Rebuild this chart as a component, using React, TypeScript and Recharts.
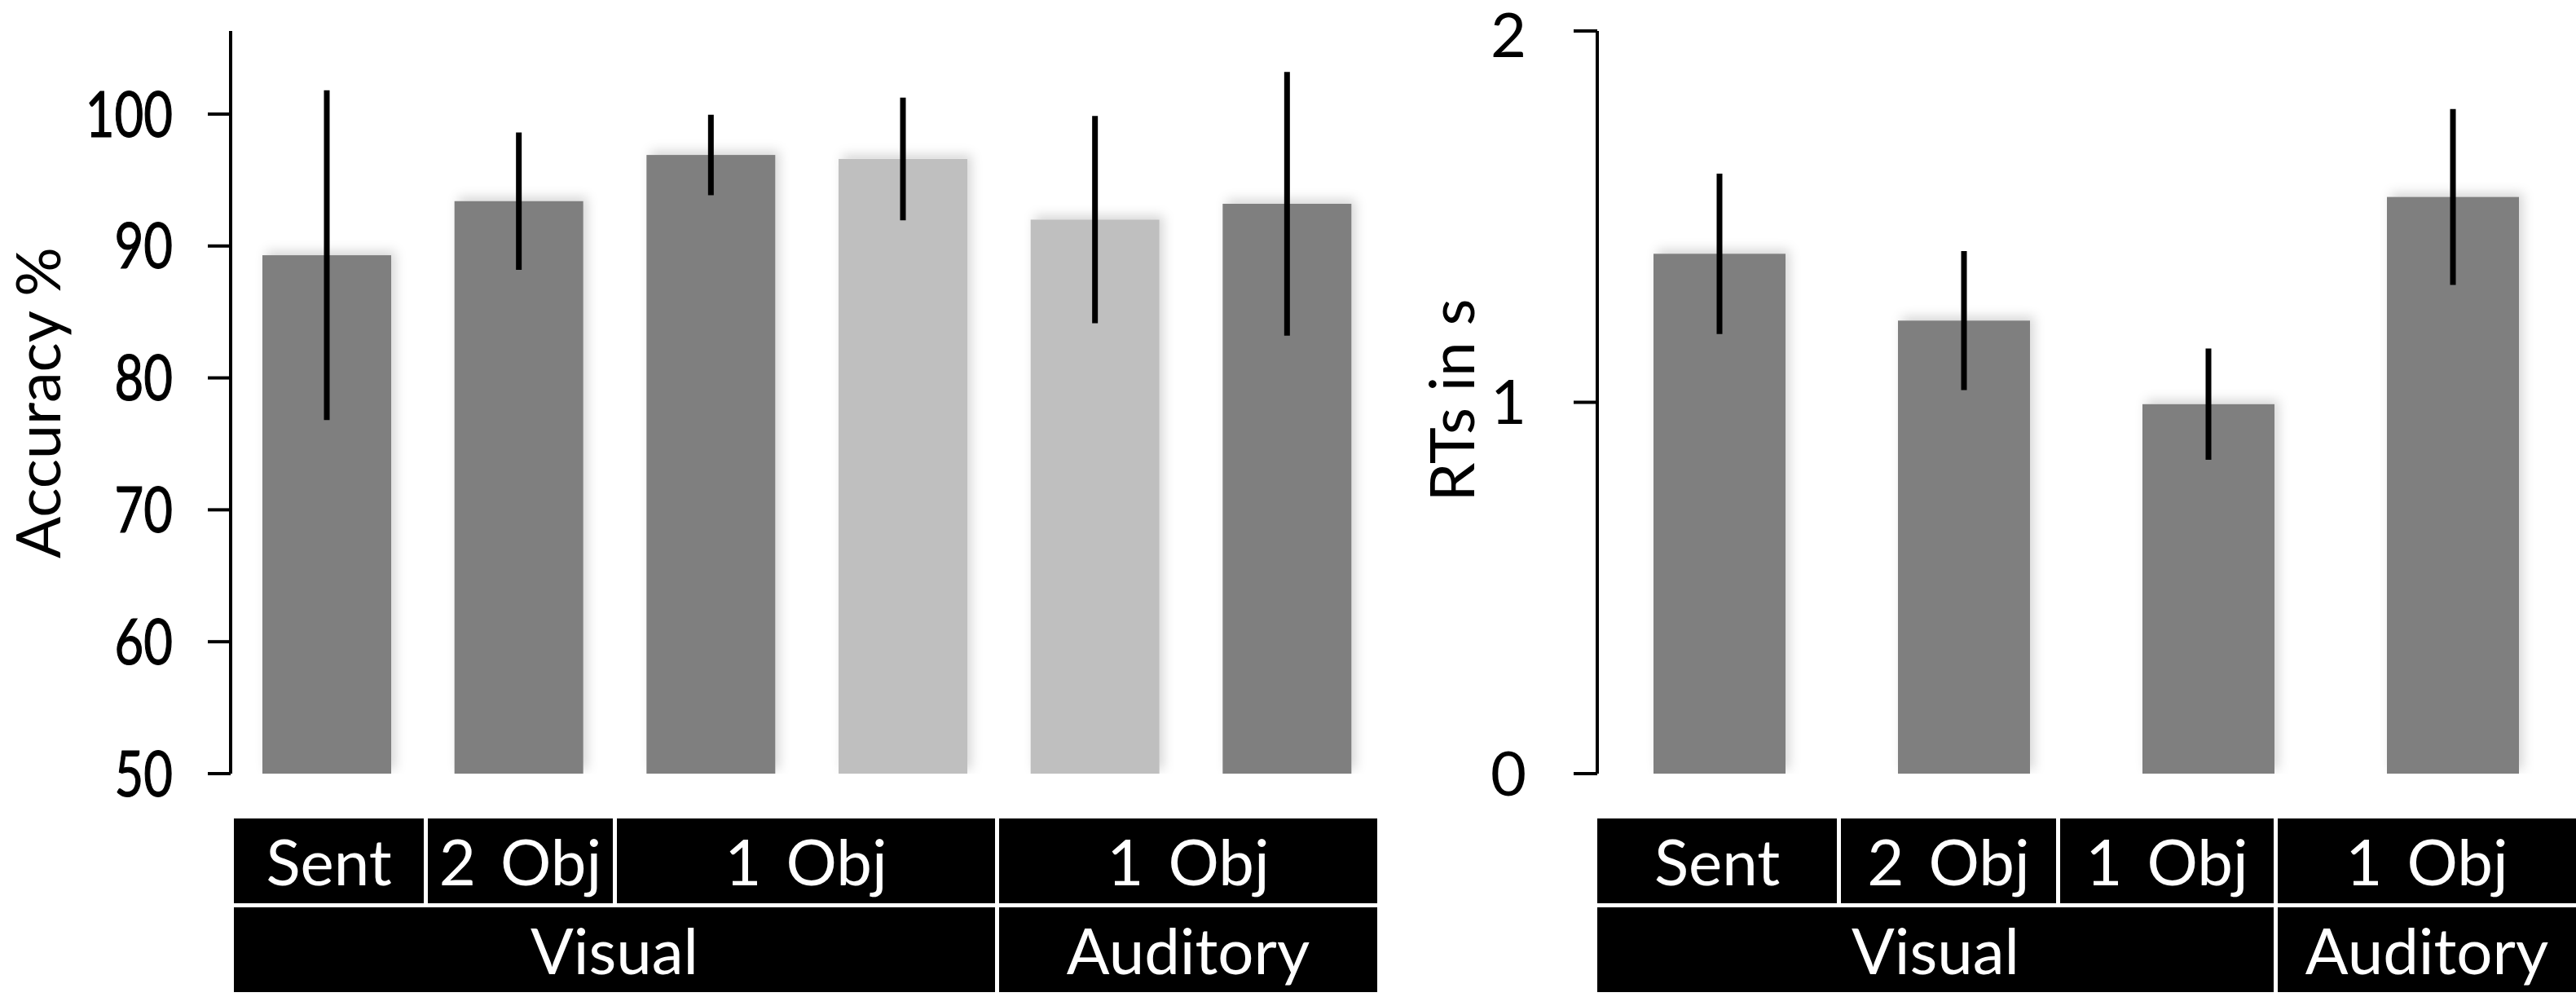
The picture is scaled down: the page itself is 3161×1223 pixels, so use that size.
import { BarChart, Bar, XAxis, YAxis, ErrorBar, Cell } from 'recharts';

// accuracy panel (left)
const ACC_KEYS = ['sent', 'obj2', 'obj1a', 'obj1b', 'aud1a', 'aud1b'];
const ACC_MEAN = [89.3, 93.4, 96.9, 96.6, 92.0, 93.2];
const ACC_SD = [12.5, 5.2, 3.05, 4.65, 7.85, 10.0];
const ACC_SHADE = ['dark', 'dark', 'dark', 'light', 'light', 'dark'];
const ACC_TICKS = [50, 60, 70, 80, 90, 100];

// reaction time panel (right)
const RT_KEYS = ['sent', 'obj2', 'obj1', 'aud1'];
const RT_MEAN = [1.4, 1.22, 0.995, 1.553];
const RT_SD = [0.216, 0.187, 0.15, 0.237];
const RT_TICKS = [0, 1, 2];

// condition table labels
const ACC_ROW1 = ['Sent', '2 Obj', '1 Obj', '1 Obj'];
const ACC_ROW2 = ['Visual', 'Auditory'];
const RT_ROW1 = ['Sent', '2 Obj', '1 Obj', '1 Obj'];
const RT_ROW2 = ['Visual', 'Auditory'];

const SHADES: Record<string, string> = { dark: '#7f7f7f', light: '#bfbfbf' };

const accData = ACC_KEYS.map((key, i) => ({ key, mean: ACC_MEAN[i], sd: ACC_SD[i], shade: ACC_SHADE[i] }));
const rtData = RT_KEYS.map((key, i) => ({ key, mean: RT_MEAN[i], sd: RT_SD[i], shade: 'dark' }));

const TEXT_FONT = 'Lato, "Open Sans", sans-serif';

// table layout (px)
const ROW1_TOP = 1004;
const ROW2_TOP = 1113;
const ROW_H = 104;
const ACC_ROW1_W = [233, 232, 469, 469];
const ACC_ROW2_W = [934, 469];
const RT_ROW1_W = [294, 269, 267, 371];
const RT_ROW2_W = [830, 371];

// rotated y-axis title, squeezed to the reference length
function AxisTitle({ text, x, y, length }: { text: string; x: number; y: number; length: number }) {
  return (
    <text
      x={x}
      y={y}
      transform={`rotate(-90 ${x} ${y})`}
      textAnchor="middle"
      fontFamily={TEXT_FONT}
      fontSize={75}
      fill="#000"
      textLength={length}
      lengthAdjust="spacingAndGlyphs"
    >
      {text}
    </text>
  );
}

// condensed numbers on the accuracy axis
function NarrowTick({ x, y, payload }: any) {
  return (
    <g transform={`translate(${x},${y})`}>
      <text
        transform="scale(0.8,1)"
        textAnchor="end"
        dy="0.36em"
        fontSize={77}
        fontFamily={TEXT_FONT}
        fill="#000"
        stroke="#000"
        strokeWidth={1.2}
      >
        {payload.value}
      </text>
    </g>
  );
}

function glowBar(filterId: string) {
  return (props: any) => (
    <rect
      x={props.x}
      y={props.y}
      width={props.width}
      height={props.height}
      fill={props.fill}
      filter={`url(#${filterId})`}
    />
  );
}

function GlowDefs({ id }: { id: string }) {
  return (
    <defs>
      <filter id={id} x="-30%" y="-10%" width="160%" height="120%">
        <feDropShadow dx="5" dy="-5" stdDeviation="7" floodColor="#000" floodOpacity="0.16" />
      </filter>
    </defs>
  );
}

function TableRow({ labels, widths, left, top }: { labels: string[]; widths: number[]; left: number; top: number }) {
  return (
    <div style={{ position: 'absolute', left, top, height: ROW_H, display: 'flex' }}>
      {labels.map((label, i) => (
        <div
          key={i}
          style={{
            boxSizing: 'border-box',
            width: widths[i],
            height: ROW_H,
            background: '#000',
            borderLeft: i > 0 ? '5px solid #fff' : 'none',
            color: '#fff',
            fontFamily: TEXT_FONT,
            fontSize: 78,
            wordSpacing: 10,
            lineHeight: `${ROW_H}px`,
            textAlign: 'center',
            whiteSpace: 'nowrap',
          }}
        >
          {label}
        </div>
      ))}
    </div>
  );
}

export default function App() {
  return (
    <div style={{ position: 'relative', width: 3161, height: 1223, background: '#fff', overflow: 'hidden' }}>
      <style>{'body{margin:0}'}</style>

      <div style={{ position: 'absolute', left: 0, top: 0 }}>
        <BarChart width={1700} height={1223} data={accData} margin={{ top: 38, right: 3, bottom: 274, left: 0 }}>
          <GlowDefs id="accGlow" />
          <XAxis dataKey="key" hide />
          <YAxis
            width={283}
            domain={[50, 106.3]}
            ticks={ACC_TICKS}
            allowDataOverflow
            axisLine={{ stroke: '#000', strokeWidth: 4 }}
            tickLine={{ stroke: '#000', strokeWidth: 4 }}
            tickSize={28}
            tickMargin={43}
            tick={<NarrowTick />}
          />
          <Bar dataKey="mean" barSize={158} isAnimationActive={false} shape={glowBar('accGlow')}>
            {accData.map((d) => (
              <Cell key={d.key} fill={SHADES[d.shade]} />
            ))}
            <ErrorBar dataKey="sd" width={0} stroke="#000" strokeWidth={7} direction="y" isAnimationActive={false} />
          </Bar>
          <AxisTitle text="Accuracy %" x={74} y={494} length={382} />
        </BarChart>
      </div>

      <div style={{ position: 'absolute', left: 1700, top: 0 }}>
        <BarChart width={1461} height={1223} data={rtData} margin={{ top: 38, right: 1, bottom: 274, left: 0 }}>
          <GlowDefs id="rtGlow" />
          <XAxis dataKey="key" hide />
          <YAxis
            width={260}
            domain={[0, 2]}
            ticks={RT_TICKS}
            allowDataOverflow
            axisLine={{ stroke: '#000', strokeWidth: 4 }}
            tickLine={{ stroke: '#000', strokeWidth: 4 }}
            tickSize={29}
            tickMargin={58}
            tick={{ fill: '#000', fontSize: 76, fontFamily: TEXT_FONT }}
          />
          <Bar dataKey="mean" barSize={162} isAnimationActive={false} shape={glowBar('rtGlow')}>
            {rtData.map((d) => (
              <Cell key={d.key} fill={SHADES[d.shade]} />
            ))}
            <ErrorBar dataKey="sd" width={0} stroke="#000" strokeWidth={7} direction="y" isAnimationActive={false} />
          </Bar>
          <AxisTitle text="RTs in s" x={109} y={491} length={249} />
        </BarChart>
      </div>

      <TableRow labels={ACC_ROW1} widths={ACC_ROW1_W} left={287} top={ROW1_TOP} />
      <TableRow labels={ACC_ROW2} widths={ACC_ROW2_W} left={287} top={ROW2_TOP} />
      <TableRow labels={RT_ROW1} widths={RT_ROW1_W} left={1960} top={ROW1_TOP} />
      <TableRow labels={RT_ROW2} widths={RT_ROW2_W} left={1960} top={ROW2_TOP} />
    </div>
  );
}
